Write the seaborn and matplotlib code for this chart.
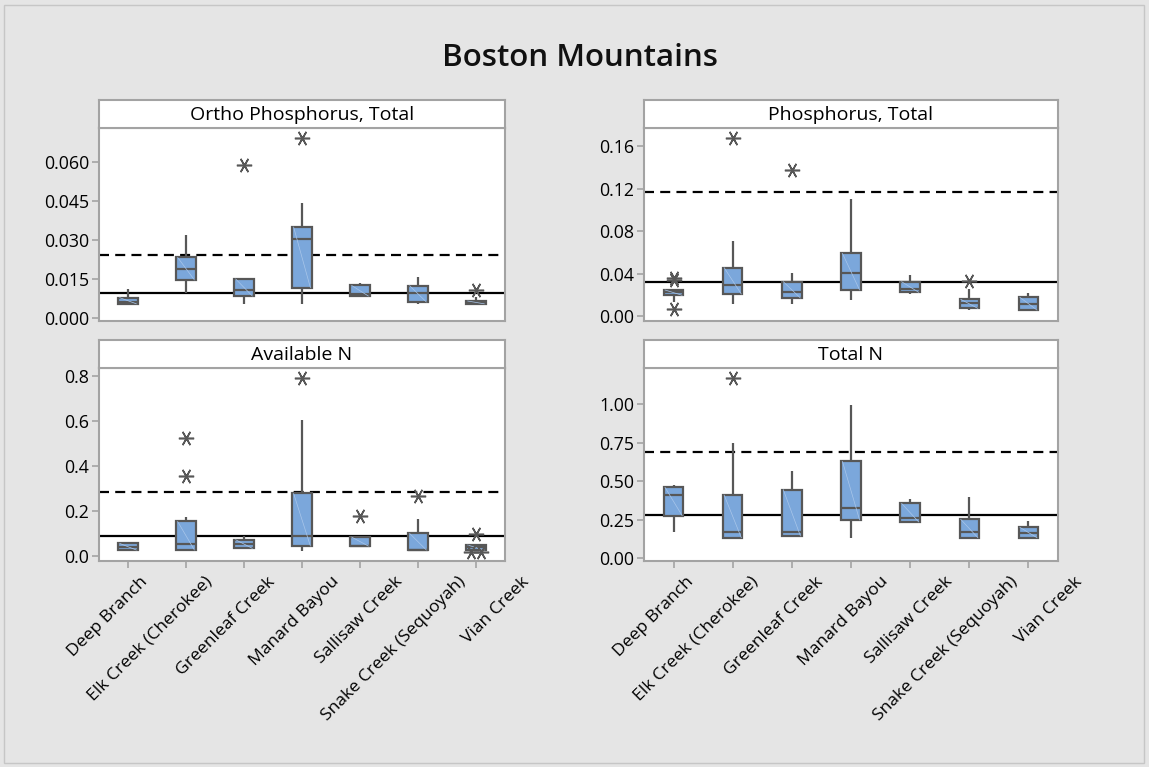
import numpy as np
import pandas as pd
import matplotlib
matplotlib.use("Agg")
import matplotlib.pyplot as plt
from matplotlib.patches import Rectangle
from matplotlib.ticker import FixedLocator, FormatStrFormatter
from matplotlib.transforms import ScaledTranslation
import seaborn as sns

# ---- data -------------------------------------------------------------
sites = ["Deep Branch", "Elk Creek (Cherokee)", "Greenleaf Creek", "Manard Bayou",
         "Sallisaw Creek", "Snake Creek (Sequoyah)", "Vian Creek"]

# Ortho Phosphorus, Total
op_low = [0.0053, 0.0094, 0.0053, 0.0053, 0.0083, 0.0051, 0.0053]
op_q1 = [0.0053, 0.0145, 0.0083, 0.0115, 0.0083, 0.0060, 0.0053]
op_med = [0.0062, 0.0186, 0.0108, 0.0301, 0.0092, 0.0095, 0.0057]
op_q3 = [0.0077, 0.0232, 0.0149, 0.0349, 0.0124, 0.0123, 0.0064]
op_high = [0.0109, 0.0317, 0.0149, 0.0440, 0.0132, 0.0155, 0.0080]
op_out = [[], [], [0.0587], [0.0690], [], [], [0.0106]]
op_ref = (0.0094, 0.0240)

# Phosphorus, Total
tp_low = [0.0135, 0.0113, 0.0113, 0.0151, 0.0207, 0.0056, 0.0056]
tp_q1 = [0.0195, 0.0207, 0.0169, 0.0245, 0.0223, 0.0072, 0.0056]
tp_med = [0.0225, 0.0292, 0.0229, 0.0402, 0.0254, 0.0119, 0.0116]
tp_q3 = [0.0245, 0.0455, 0.0323, 0.0590, 0.0323, 0.0157, 0.0176]
tp_high = [0.0245, 0.0706, 0.0402, 0.1098, 0.0386, 0.0251, 0.0213]
tp_out = [[0.036, 0.034, 0.0065], [0.1678], [0.1371], [], [], [0.0329], []]
tp_ref = (0.0323, 0.117)

# Available N
an_low = [0.0267, 0.0267, 0.0340, 0.0237, 0.0444, 0.0267, 0.0267]
an_q1 = [0.0267, 0.0267, 0.0340, 0.0444, 0.0444, 0.0267, 0.0267]
an_med = [0.0415, 0.0519, 0.0519, 0.0900, 0.0444, 0.0267, 0.0385]
an_q3 = [0.0563, 0.1540, 0.0726, 0.2785, 0.0844, 0.1007, 0.0490]
an_high = [0.0563, 0.1720, 0.0890, 0.6070, 0.0844, 0.1640, 0.0490]
an_out = [[], [0.526, 0.356], [], [0.793], [0.178], [0.268], [0.100, 0.019, 0.019]]
an_ref = (0.0904, 0.286)

# Total N
tn_low = [0.169, 0.134, 0.145, 0.130, 0.236, 0.134, 0.134]
tn_q1 = [0.277, 0.134, 0.145, 0.249, 0.236, 0.134, 0.134]
tn_med = [0.409, 0.173, 0.173, 0.329, 0.264, 0.173, 0.1645]
tn_q3 = [0.461, 0.411, 0.446, 0.630, 0.357, 0.253, 0.201]
tn_high = [0.476, 0.747, 0.567, 0.9935, 0.385, 0.400, 0.245]
tn_out = [[], [1.169], [], [], [], [], []]
tn_ref = (0.279, 0.693)

panels = [
    ("Ortho Phosphorus, Total", op_low, op_q1, op_med, op_q3, op_high, op_out, op_ref,
     [0.0, 0.015, 0.030, 0.045, 0.060], "%.3f", (-0.0013, 0.0730)),
    ("Phosphorus, Total", tp_low, tp_q1, tp_med, tp_q3, tp_high, tp_out, tp_ref,
     [0.0, 0.04, 0.08, 0.12, 0.16], "%.2f", (-0.0047, 0.177)),
    ("Available N", an_low, an_q1, an_med, an_q3, an_high, an_out, an_ref,
     [0.0, 0.2, 0.4, 0.6, 0.8], "%.1f", (-0.022, 0.836)),
    ("Total N", tn_low, tn_q1, tn_med, tn_q3, tn_high, tn_out, tn_ref,
     [0.0, 0.25, 0.50, 0.75, 1.00], "%.2f", (-0.0175, 1.236)),
]

# ---- style ------------------------------------------------------------
sns.set_theme(style="white")
plt.rcParams["font.family"] = ["Open Sans", "DejaVu Sans"]

BG = "#e5e5e5"
FRAME = "#a3a3a3"
BOX = "#7ba7db"
EDGE = "#575757"
W, H = 1149, 767

fig = plt.figure(figsize=(W / 100, H / 100), dpi=100, facecolor=BG)
fig.patches.append(Rectangle((4 / W, 4 / H), 1140 / W, 758 / H, transform=fig.transFigure,
                             facecolor="none", edgecolor="#c6c6c6", lw=1.0))
fig.text(580 / W, 1 - 58 / H, "Boston Mountains", ha="center", va="center",
         fontsize=22.5, fontweight="semibold", color="#111111")

# pixel boxes for the four plotting areas: left, right, header top, header bottom, plot bottom
layout = [(99, 505, 100, 128, 321), (644, 1058, 100, 128, 321),
          (99, 505, 340, 368, 561), (644, 1058, 340, 368, 561)]

box_w = 0.33
for k, (name, lo, q1, med, q3, hi, outs, ref, yt, fmt, ylim) in enumerate(panels):
    x0, x1, ht, hb, pb = layout[k]
    ax = fig.add_axes([x0 / W, 1 - pb / H, (x1 - x0) / W, (pb - hb) / H])
    hax = fig.add_axes([x0 / W, 1 - hb / H, (x1 - x0) / W, (hb - ht) / H])

    # five-number summary as long-form table; whiskers run to the extremes
    df = pd.DataFrame({
        "site": np.repeat(sites, 5),
        "value": np.column_stack([lo, q1, med, q3, hi]).ravel(),
    })
    sns.boxplot(data=df, x="site", y="value", order=sites, ax=ax, whis=np.inf,
                color=BOX, saturation=1, linecolor=EDGE, linewidth=1.6,
                width=box_w, showcaps=False)

    # faint sheen diagonal across each box
    for i in range(len(sites)):
        if q3[i] - q1[i] > 0:
            ax.plot([i - box_w / 2 + 0.02, i + box_w / 2 - 0.02], [q3[i], q1[i]],
                    color="#a9c6ea", lw=0.5, zorder=2.2)

    # outliers; coincident values are spread sideways
    for i, vals in enumerate(outs):
        seen = {}
        for v in vals:
            seen.setdefault(v, []).append(v)
        for v, grp in seen.items():
            n = len(grp)
            offs = np.linspace(-0.08 * (n - 1), 0.08 * (n - 1), n) if n > 1 else [0.0]
            for o in offs:
                ax.plot(i + o, v, marker=(6, 2, 90), ms=11, mew=1.15, color=EDGE,
                        linestyle="none", zorder=4)

    # reference lines
    ax.axhline(ref[0], color="black", lw=1.6, zorder=0.5)
    ax.axhline(ref[1], color="black", lw=1.6, ls=(0, (4.5, 2.8)), zorder=0.5)

    ax.set_xlim(-0.5, len(sites) - 0.5)
    ax.set_ylim(*ylim)
    ax.yaxis.set_major_locator(FixedLocator(yt))
    ax.yaxis.set_major_formatter(FormatStrFormatter(fmt))
    ax.set_xlabel("")
    ax.set_ylabel("")
    ax.set_facecolor("white")
    for s in ax.spines.values():
        s.set_color(FRAME)
        s.set_linewidth(1.5)
    ax.tick_params(axis="y", which="major", left=True, length=5, width=1.2,
                   color=FRAME, labelsize=12.8, labelcolor="black", pad=2)
    if k >= 2:
        ax.tick_params(axis="x", bottom=True, length=5, width=1.2, color=FRAME,
                       labelsize=12.6, labelcolor="black", pad=7)
        for i, lab in enumerate(ax.get_xticklabels()):
            lab.set_rotation(45)
            lab.set_ha("right")
            lab.set_rotation_mode("anchor")
            # category labels fan out slightly wider than the tick spacing
            shift = ScaledTranslation((12 + 5.6 * i) / 100, 4 / 100, fig.dpi_scale_trans)
            lab.set_transform(lab.get_transform() + shift)
    else:
        ax.tick_params(axis="x", bottom=False, labelbottom=False)

    # panel header strip
    hax.set_facecolor("white")
    hax.set_xticks([])
    hax.set_yticks([])
    for s in hax.spines.values():
        s.set_color(FRAME)
        s.set_linewidth(1.5)
    hax.text(0.5, 0.45, name, ha="center", va="center", fontsize=14,
             fontweight="medium", transform=hax.transAxes, color="black")

fig.savefig("out.png", dpi=100, facecolor=BG)
